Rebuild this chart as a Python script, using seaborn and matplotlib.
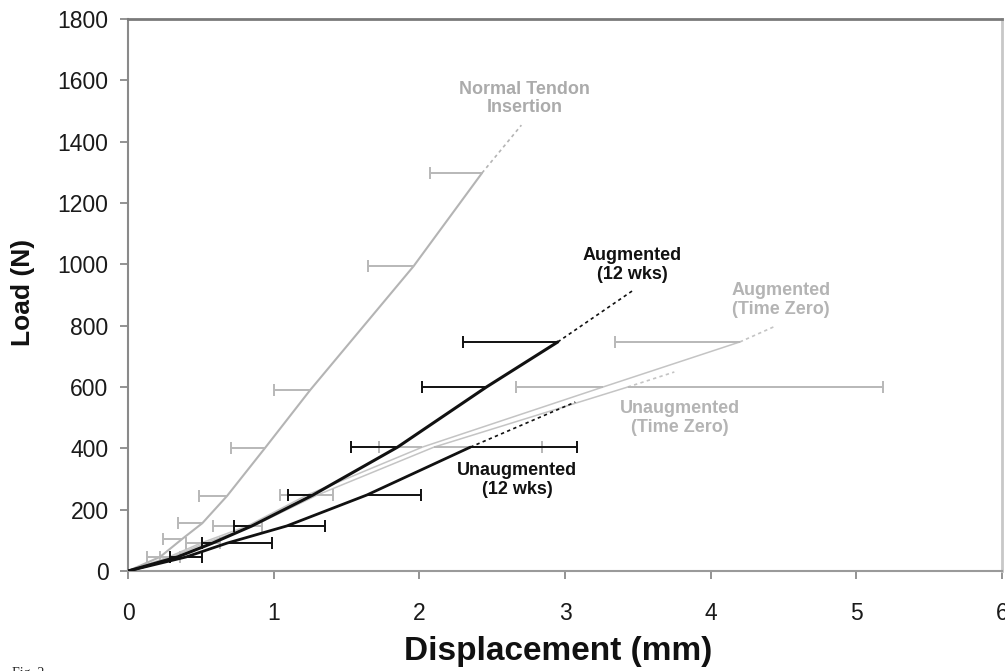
import matplotlib
matplotlib.use("Agg")
import matplotlib.pyplot as plt
import numpy as np
import seaborn as sns

# ---- data: load (N) vs mean displacement (mm), SD of displacement ----
x_ticks = [0, 1, 2, 3, 4, 5, 6]
y_ticks = [0, 200, 400, 600, 800, 1000, 1200, 1400, 1600, 1800]

normal_load = [0, 46, 104, 156, 245, 401, 590, 994, 1298]
normal_disp = [0, 0.22, 0.37, 0.51, 0.68, 0.94, 1.25, 1.96, 2.43]
normal_sd = [0, 0.09, 0.13, 0.17, 0.19, 0.23, 0.25, 0.31, 0.36]
normal_fail = [2.70, 1454]

aug12_load = [0, 46, 91, 147, 248, 404, 600, 747]
aug12_disp = [0, 0.34, 0.58, 0.85, 1.27, 1.85, 2.46, 2.95]
aug12_sd = [0, 0.05, 0.07, 0.12, 0.17, 0.32, 0.44, 0.65]
aug12_fail = [3.46, 913]

unaug12_load = [0, 46, 91, 147, 248, 404]
unaug12_disp = [0, 0.40, 0.68, 1.09, 1.64, 2.35]
unaug12_sd = [0, 0.11, 0.31, 0.26, 0.37, 0.73]
unaug12_fail = [3.07, 551]

augtz_load = [0, 46, 91, 147, 248, 404, 600, 747]
augtz_disp = [0, 0.28, 0.50, 0.82, 1.23, 2.02, 3.26, 4.20]
augtz_sd = [0, 0.06, 0.10, 0.24, 0.19, 0.30, 0.60, 0.86]
augtz_fail = [4.45, 800]

unaugtz_load = [0, 46, 91, 147, 248, 404, 600]
unaugtz_disp = [0, 0.30, 0.53, 0.86, 1.30, 2.10, 3.43]
unaugtz_sd = [0, 0.06, 0.10, 0.06, 0.11, 0.74, 1.75]
unaugtz_fail = [3.75, 649]

labels = ["Normal Tendon\nInsertion", "Augmented\n(12 wks)", "Unaugmented\n(12 wks)",
          "Augmented\n(Time Zero)", "Unaugmented\n(Time Zero)"]
label_pos = [(2.72, 1542), (3.46, 998), (2.67, 297), (4.48, 884), (3.79, 499)]

# ---- styling ----
sns.set_theme(style="white")
plt.rcParams["font.family"] = ["Liberation Sans", "DejaVu Sans"]

GRAY = "#b4b4b4"
LIGHT = "#c4c4c4"
BLACK = "#111111"

fig = plt.figure(figsize=(10.05, 6.71), dpi=100)
ax = fig.add_axes([0.1274, 0.149, 0.8697, 0.8226])

series = [
    # load, disp, sd, fail, colour, line width, bar side (-1 left, +1 right), z
    (unaugtz_load, unaugtz_disp, unaugtz_sd, unaugtz_fail, LIGHT, 1.1, +1, 2),
    (augtz_load, augtz_disp, augtz_sd, augtz_fail, LIGHT, 1.1, -1, 2),
    (normal_load, normal_disp, normal_sd, normal_fail, GRAY, 1.5, -1, 3),
    (unaug12_load, unaug12_disp, unaug12_sd, unaug12_fail, BLACK, 2.0, +1, 4),
    (aug12_load, aug12_disp, aug12_sd, aug12_fail, BLACK, 2.2, -1, 4),
]

for load, disp, sd, fail, col, lw, side, z in series:
    load = np.asarray(load, float)
    disp = np.asarray(disp, float)
    sd = np.asarray(sd, float)
    sns.lineplot(x=disp, y=load, ax=ax, color=col, lw=lw, sort=False,
                 estimator=None, zorder=z)
    # extrapolated part up to failure
    sns.lineplot(x=[disp[-1], fail[0]], y=[load[-1], fail[1]], ax=ax, color=col,
                 lw=1.2, sort=False, estimator=None, linestyle=(0, (2, 2)), zorder=z)
    # one-sided horizontal SD bars
    bar_col = "#b8b8b8" if col != BLACK else BLACK
    ends = disp[1:] + side * sd[1:]
    ax.hlines(load[1:], np.minimum(disp[1:], ends), np.maximum(disp[1:], ends),
              color=bar_col, lw=1.4, zorder=z)
    ax.plot(ends, load[1:], ls="none", marker="|", ms=8, mew=1.4,
            color=bar_col, zorder=z)

label_cols = ["#ababab", BLACK, BLACK, "#b4b4b4", "#b4b4b4"]
for txt, (lx, ly), c in zip(labels, label_pos, label_cols):
    ax.text(lx, ly, txt, ha="center", va="center", color=c, fontsize=13,
            fontweight="bold", linespacing=1.1, zorder=6)

ax.set_xlim(0, 6)
ax.set_ylim(0, 1800)
ax.set_xticks(x_ticks)
ax.set_yticks(y_ticks)

ax.tick_params(axis="both", bottom=True, left=True, direction="out", length=6,
               width=1.3, color="#8a8a8a", labelsize=16.5, labelcolor="#1a1a1a")
ax.tick_params(axis="x", pad=16)
ax.tick_params(axis="y", pad=8)

for side, c, w in [("top", "#7a7a7a", 2.0), ("right", "#c8c8c8", 2.0),
                   ("left", "#8a8a8a", 1.5), ("bottom", "#9a9a9a", 1.5)]:
    ax.spines[side].set_visible(True)
    ax.spines[side].set_color(c)
    ax.spines[side].set_linewidth(w)

ax.set_xlabel("Displacement (mm)", fontsize=24, fontweight="bold", color="#111111")
ax.set_ylabel("Load (N)", fontsize=19, fontweight="bold", color="#111111")
ax.xaxis.set_label_coords(0.492, -0.118)
ax.yaxis.set_label_coords(-0.106, 0.504)

fig.text(0.012, 0.006, "Fig. 2", family=["Liberation Serif"], fontsize=10,
         va="top", ha="left", color="#222222")

fig.savefig("out.png", dpi=100, facecolor="white")
